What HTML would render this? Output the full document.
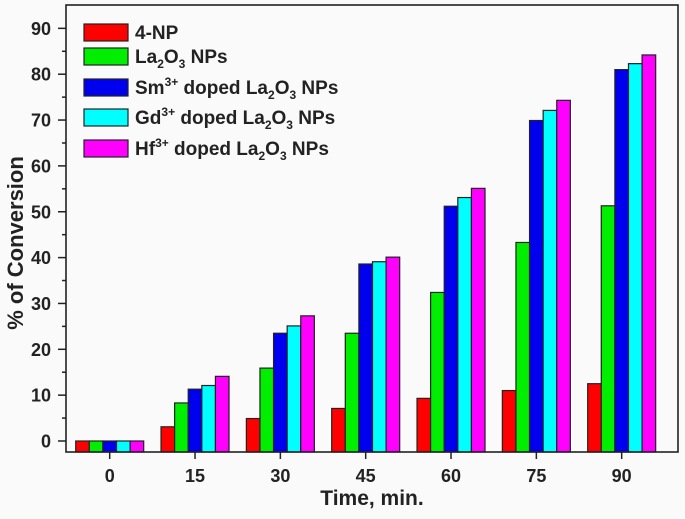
<!DOCTYPE html>
<html><head><meta charset="utf-8"><style>
body{margin:0;background:#fafafa}
svg text{font-family:"Liberation Sans",Arial,sans-serif;font-weight:bold;fill:#222}
</style></head><body>
<svg id="chart" width="685" height="514" viewBox="0 0 685 514">
<rect width="685" height="514" fill="#fafafa"/>
<g id="bars"></g>
<rect x="66" y="5" width="612" height="447" fill="none" stroke="#222" stroke-width="1.6"/>
<g id="axes"></g>
<text x="0" y="0" transform="translate(23,243) rotate(-90)" text-anchor="middle" font-size="22">% of Conversion</text>
<text x="372" y="505" text-anchor="middle" font-size="21">Time, min.</text>
<g id="legend"></g>
</svg>
<script>
const categories=["0","15","30","45","60","75","90"];
const seriesNames=["4-NP","La2O3 NPs","Sm doped","Gd doped","Hf doped"];
const s4NP=[0,3.1,4.9,7.1,9.3,11.0,12.5];
const sLa=[0,8.3,15.9,23.5,32.4,43.3,51.3];
const sSm=[0,11.3,23.5,38.6,51.2,69.9,81.0];
const sGd=[0,12.1,25.1,39.1,53.1,72.1,82.3];
const sHf=[0,14.1,27.3,40.1,55.1,74.3,84.2];
const yTicks=[0,10,20,30,40,50,60,70,80,90];
const colors=["#ff0000","#00ee00","#0000ee","#00ffff","#ff00ff"];
const series=[s4NP,sLa,sSm,sGd,sHf];
const NS="http://www.w3.org/2000/svg";
function y(v){return 441-v*4.585;}
function xc(i){return 109.7+i*85.33;}
const bw=13.6,base=452;
const gB=document.getElementById('bars');
series.forEach((s,k)=>{s.forEach((v,i)=>{
 const r=document.createElementNS(NS,'rect');
 const x0=xc(i)-2.5*bw+k*bw;
 r.setAttribute('x',x0);r.setAttribute('y',y(v));
 r.setAttribute('width',bw);r.setAttribute('height',base-y(v));
 r.setAttribute('fill',colors[k]);r.setAttribute('stroke','#222');r.setAttribute('stroke-width','1.2');
 
 
 gB.appendChild(r);
});});
const gA=document.getElementById('axes');
function line(x1,y1,x2,y2,nm){const l=document.createElementNS(NS,'line');
 l.setAttribute('x1',x1);l.setAttribute('y1',y1);l.setAttribute('x2',x2);l.setAttribute('y2',y2);
 l.setAttribute('stroke','#222');l.setAttribute('stroke-width','1.5');
 
 
 gA.appendChild(l);}
function text(x,yy,t,anchor,nm){const e=document.createElementNS(NS,'text');
 e.setAttribute('x',x);e.setAttribute('y',yy);e.setAttribute('text-anchor',anchor);e.setAttribute('font-size','18');
 e.textContent=t;
 
 
 gA.appendChild(e);}
yTicks.forEach(v=>{line(58,y(v),66,y(v),'y-tick');text(51,y(v)+6.5,String(v),'end','y-tick-label');
 if(v<90)line(62,y(v+5),66,y(v+5),'y-minor-tick');});
categories.forEach((c,i)=>{line(xc(i),452,xc(i),459,'x-tick');text(xc(i),482,c,'middle','x-tick-label');});
const gL=document.getElementById('legend');
const legY=[32,56,87,117,148];
const sub='font-size="12" dy="5"', sup='font-size="12" dy="-8"';
const tail='<tspan dy="8"> doped La</tspan><tspan '+sub+'>2</tspan><tspan dy="-5">O</tspan><tspan '+sub+'>3</tspan><tspan dy="-5"> NPs</tspan>';
const legHTML=['4-NP','La<tspan '+sub+'>2</tspan><tspan dy="-5">O</tspan><tspan '+sub+'>3</tspan><tspan dy="-5"> NPs</tspan>',
'Sm<tspan '+sup+'>3+</tspan>'+tail,
'Gd<tspan '+sup+'>3+</tspan>'+tail,
'Hf<tspan '+sup+'>3+</tspan>'+tail];
legY.forEach((yy,k)=>{
 const r=document.createElementNS(NS,'rect');
 r.setAttribute('x',84);r.setAttribute('y',yy-8);r.setAttribute('width',44);r.setAttribute('height',17);
 r.setAttribute('fill',colors[k]);r.setAttribute('stroke','#222');r.setAttribute('stroke-width','1.2');
 
 
 gL.appendChild(r);
 const t=document.createElementNS(NS,'text');
 t.setAttribute('x',135);t.setAttribute('y',yy+7);t.setAttribute('font-size','19');
 t.innerHTML=legHTML[k];
 
 
 gL.appendChild(t);
});
</script>
</body></html>
